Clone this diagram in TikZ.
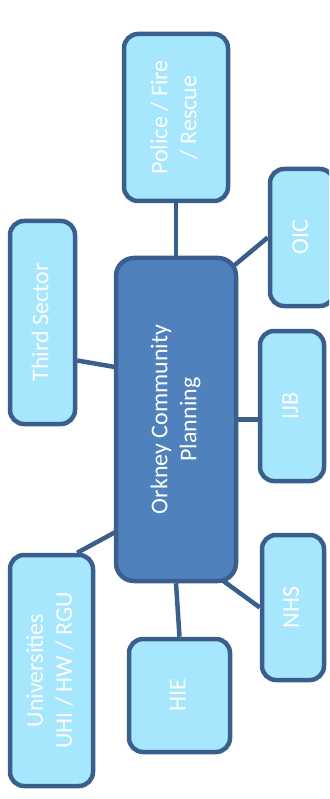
\documentclass[tikz,border=0pt]{standalone}
\usepackage{fontspec}
\setmainfont{Carlito}
\usetikzlibrary{backgrounds}

\definecolor{edgeblue}{HTML}{3A5F8D}
\definecolor{paleblue}{HTML}{A6E7FD}
\definecolor{hubblue}{HTML}{4F81BD}

\tikzset{
  partner/.style = {draw = edgeblue, line width = 4.5pt, fill = paleblue,
    rounded corners = 14pt, inner sep = 0pt, text = white,
    font = \fontsize{24}{29}\selectfont},
  hub/.style = {partner, fill = hubblue, rounded corners = 18pt},
  link/.style = {draw = edgeblue, line width = 4.5pt}
}
\newcommand{\vtext}[1]{\rotatebox{90}{\begin{tabular}{@{}c@{}}#1\end{tabular}}}

\begin{document}
\begin{tikzpicture}[x = 1pt, y = -1pt]
        \useasboundingbox (0,0) rectangle (329,799);
        \clip (0,0) rectangle (329,799);

        \node [hub, minimum width = 120pt, minimum height = 323pt] (ocp) at (176,419.5) {\vtext{Orkney Community\\Planning}};

        \node [partner, minimum width = 104pt, minimum height = 167pt] (police) at (176,117.5) {\vtext{Police / Fire\\/ Rescue}};
        \node [partner, minimum width = 64pt, minimum height = 137pt] (oic) at (302,237.5) {\vtext{OIC}};
        \node [partner, minimum width = 65pt, minimum height = 203pt] (third) at (42.5,322.5) {\vtext{Third Sector}};
        \node [partner, minimum width = 64pt, minimum height = 150pt] (ijb) at (292,406) {\vtext{IJB}};
        \node [partner, minimum width = 62pt, minimum height = 145pt] (nhs) at (293,607.5) {\vtext{NHS}};
        \node [partner, minimum width = 101pt, minimum height = 113pt] (hie) at (179.5,695.5) {\vtext{HIE}};
        \node [partner, minimum width = 83pt, minimum height = 231pt] (univ) at (51.5,670.5) {\vtext{Universities\\UHI / HW / RGU}};

        \begin{scope}[on background layer]
        \draw [link] (police.south) -- (ocp.north);
        \draw [link] (oic.west) -- ([xshift = -14pt, yshift = -18pt]ocp.north east);
        \draw [link] ([yshift = -38pt]third.east) -- ([xshift = 4pt, yshift = 52pt]ocp.west);
        \draw [link] (ocp.east) -- (ocp.east -| ijb.west);
        \draw [link] ([xshift = 10pt, yshift = -108pt]ocp.west) -- ([xshift = -18pt]univ.north east);
        \draw [link] (ocp.south) -- (hie.north);
        \draw [link] ([xshift = -20pt, yshift = 6pt]ocp.south east) -- (nhs.west);
        \end{scope}
    \end{tikzpicture}
\end{document}
